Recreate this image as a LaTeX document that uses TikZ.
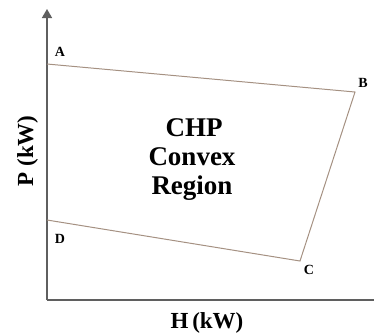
\documentclass[tikz,border=0pt]{standalone}
\usepackage{fontspec}
\setmainfont{Liberation Serif}
\usetikzlibrary{arrows.meta}
\definecolor{axisgray}{RGB}{95,95,95}
\definecolor{regionline}{RGB}{165,145,130}
\tikzset{
  axisline/.style={draw=axisgray, line width=1.6pt},
  regionedge/.style={draw=regionline, line width=1pt, line join=miter},
  ptlabel/.style={font=\bfseries\fontsize{14}{16}\selectfont, inner sep=0pt},
  bigtext/.style={font=\bfseries\fontsize{27}{29}\selectfont, inner sep=0pt, anchor=base},
  axlabel/.style={font=\bfseries\fontsize{23}{25}\selectfont, inner sep=0pt, anchor=base}
}
\begin{document}
\begin{tikzpicture}[x=1pt,y=-1pt]
\useasboundingbox (0,0) rectangle (374,333);
\coordinate (O) at (47,300);
\coordinate (Ytop) at (47,9);
\coordinate (Xend) at (383,300);
\coordinate (A) at (47,64);
\coordinate (B) at (355,92);
\coordinate (C) at (300,261);
\coordinate (D) at (47,220);
\draw[axisline, -{Triangle[length=9pt,width=10pt]}] (O) -- (Ytop);
\draw[axisline, -{Triangle[length=9pt,width=10pt]}] (O) -- (Xend);
\draw[regionedge] (A) -- (B) -- (C) -- (D);
\node[ptlabel] (la) at (60,52) {A};
\node[ptlabel] (lb) at (363,83) {B};
\node[ptlabel] (lc) at (309,270) {C};
\node[ptlabel] (ld) at (60,239) {D};
\node[bigtext] (t1) at (194,136) {CHP};
\node[bigtext] (t2) at (192,165) {Convex};
\node[bigtext] (t3) at (192,194) {Region};
\node[axlabel] (hl) at (207,328) {H\,(kW)};
\node[axlabel, rotate=90] (pl) at (33,151) {P (kW)};
\end{tikzpicture}
\end{document}
